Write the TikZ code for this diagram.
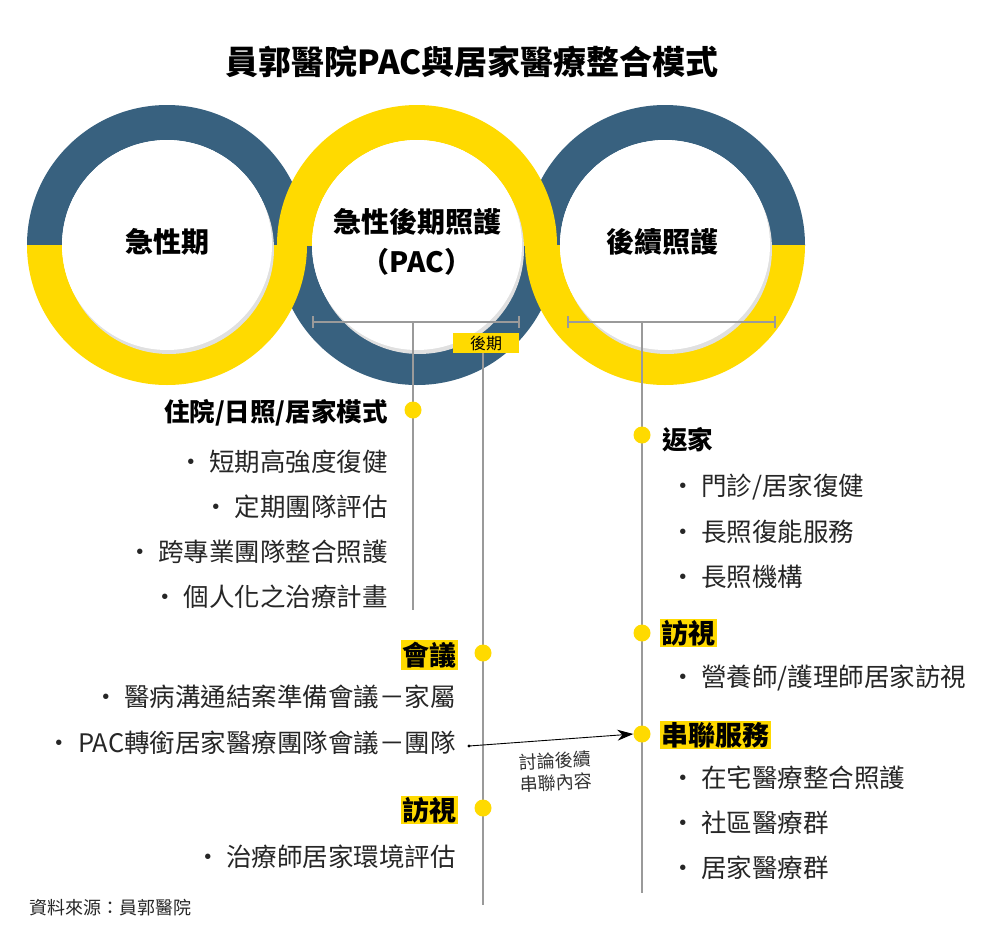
\documentclass[tikz,border=0pt]{standalone}
\usepackage{fontspec}
\setmainfont{Noto Sans CJK TC}
\usetikzlibrary{arrows.meta}
\definecolor{rblue}{HTML}{38617F}
\definecolor{ryel}{HTML}{FFDA00}
\definecolor{lgray}{HTML}{9A9A9A}
\tikzset{
  item/.style={font=\fontsize{25.5}{28}\selectfont, text=black!85, inner sep=0pt},
  headb/.style={font=\fontsize{25.5}{28}\selectfont\bfseries, inner sep=0pt},
  hl/.style={font=\fontsize{27}{30}\selectfont\bfseries, fill=ryel, inner sep=1.5pt},
  dot/.style={circle, fill=ryel, minimum size=17pt, inner sep=0pt},
  vline/.style={lgray, line width=1.3pt},
  ring/.style={font=\fontsize{28}{40}\selectfont\bfseries, align=center}
}
\newcommand{\halfring}[4]{% x, clip ytop, ybot, color
  \begin{scope}
    \clip (#1-150,#2) rectangle (#1+150,#3);
    \fill[#4,even odd rule] (#1,245) circle (140pt) (#1,245) circle (105pt);
  \end{scope}}
\begin{document}
\begin{tikzpicture}[x=1pt,y=-1pt]
\useasboundingbox[fill=white] (0,0) rectangle (1002,937);
\node[font=\fontsize{33}{36}\selectfont\bfseries] (title) at (472,62) {員郭醫院PAC與居家醫療整合模式};
% rings
\halfring{417}{245}{400}{rblue}
\halfring{167}{90}{245}{rblue}
\halfring{167}{245}{400}{ryel}
\halfring{665}{90}{245}{rblue}
\halfring{665}{245}{400}{ryel}
\halfring{417}{90}{245}{ryel}
\foreach \cx/\nm in {167/c1,417/c2,665/c3}{
  \fill[black!12] (\cx+2,249) circle (105pt);
  \fill[white] (\cx,245) circle (105pt);
}
\node[ring] (r1) at (167,242) {急性期};
\node[ring] (r2) at (417,242) {急性後期照護\\（PAC）};
\node[ring] (r3) at (662,242) {後續照護};
% brackets
\coordinate (b1l) at (313,322); \coordinate (b1r) at (519,322);
\coordinate (b2l) at (568,322); \coordinate (b2r) at (775,322);
\draw[vline] (b1l) -- (b1r);
\draw[vline] (b1l)++(0,-6) -- ++(0,12);
\draw[vline] (b1r)++(0,-6) -- ++(0,12);
\draw[vline] (b2l) -- (b2r);
\draw[vline] (b2l)++(0,-6) -- ++(0,12);
\draw[vline] (b2r)++(0,-6) -- ++(0,12);
\node[fill=ryel, font=\fontsize{16}{18}\selectfont, minimum width=66pt, minimum height=20pt, inner sep=0pt] (late) at (486,343) {後期};
\coordinate (v1a) at (413,322); \coordinate (v1b) at (413,610);
\coordinate (v2b) at (483,905);
\coordinate (v3a) at (642,322); \coordinate (v3b) at (642,893);
\draw[vline] (v1a) -- (v1b);
\draw[vline] (late.south -| v2b) -- (v2b);
\draw[vline] (v3a) -- (v3b);
% dots
\node[dot] (d1) at (413,410) {};
\node[dot] (d2) at (483,653) {};
\node[dot] (d3) at (483,808) {};
\node[dot] (d4) at (642,435) {};
\node[dot] (d5) at (642,633) {};
\node[dot] (d6) at (642,734) {};
% left block 1
\node[headb, anchor=east] (h1) at (388,413) {住院/日照/居家模式};
\node[item, anchor=east] (i11) at (388,462) {·\ 短期高強度復健};
\node[item, anchor=east] (i12) at (388,507) {·\ 定期團隊評估};
\node[item, anchor=east] (i13) at (388,552) {·\ 跨專業團隊整合照護};
\node[item, anchor=east] (i14) at (388,597) {·\ 個人化之治療計畫};
% left block 2
\node[hl, anchor=east] (h2) at (458,655) {會議};
\node[item, anchor=east] (i21) at (456,697) {·\ 醫病溝通結案準備會議－家屬};
\node[item, anchor=east] (i22) at (456,743) {·\ PAC轉銜居家醫療團隊會議－團隊};
\node[hl, anchor=east] (h3) at (458,810) {訪視};
\node[item, anchor=east] (i31) at (456,857) {·\ 治療師居家環境評估};
% right
\node[headb, anchor=west] (h4) at (662,440) {返家};
\node[item, anchor=west] (i41) at (670,487) {·\ 門診/居家復健};
\node[item, anchor=west] (i42) at (670,532) {·\ 長照復能服務};
\node[item, anchor=west] (i43) at (670,577) {·\ 長照機構};
\node[hl, anchor=west] (h5) at (660,633) {訪視};
\node[item, anchor=west] (i51) at (670,678) {·\ 營養師/護理師居家訪視};
\node[hl, anchor=west] (h6) at (660,735) {串聯服務};
\node[item, anchor=west] (i61) at (670,778) {·\ 在宅醫療整合照護};
\node[item, anchor=west] (i62) at (670,823) {·\ 社區醫療群};
\node[item, anchor=west] (i63) at (670,868) {·\ 居家醫療群};
% arrow
\coordinate (as) at (469,746);
\fill (as) circle (1.6pt);
\draw[line width=0.9pt, -{Stealth[length=16pt,width=11pt]}] (as) -- (d6.west);
\node[font=\fontsize{18}{22}\selectfont, align=center, rotate=3, text=black!80] (al) at (556,772) {討論後續\\串聯內容};
\node[font=\fontsize{18}{20}\selectfont, anchor=west, text=black!85] (src) at (26,908) {資料來源：員郭醫院};
\end{tikzpicture}
\end{document}
